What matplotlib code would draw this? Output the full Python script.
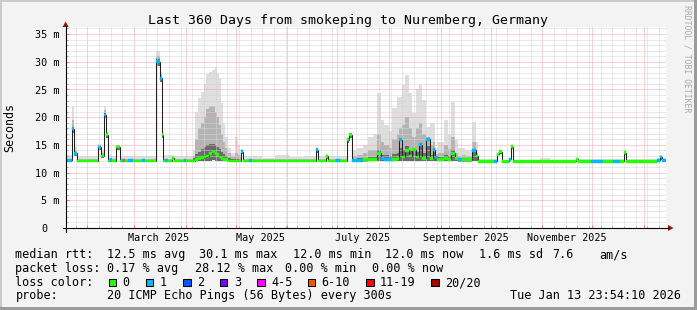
import numpy as np
import matplotlib
matplotlib.use("Agg")
import matplotlib.pyplot as plt
import matplotlib.dates as mdates
import matplotlib.transforms as mtransforms
from matplotlib.patches import Rectangle, Polygon
from datetime import datetime, timedelta

plt.rcParams['font.family'] = ['DejaVu Sans Mono', 'DejaVu Sans']

# ---------------- data ----------------
title = "Last 360 Days from smokeping to Nuremberg, Germany"
end_time = datetime(2026, 1, 13, 23, 54, 10)
span_days = 360

# segment start (days since start of window)
seg_day = [0.0, 3.8, 5.3, 6.8, 19.7, 21.2, 23.0, 24.5, 25.7, 26.6,
           27.8, 30.5, 32.6, 33.8, 35.0, 35.9, 37.4, 40.4, 45.8, 47.6,
           54.5, 56.6, 58.0, 58.7, 59.6, 61.7, 64.1, 65.0, 71.0, 72.2,
           76.7, 77.6, 79.4, 81.2, 83.0, 84.2, 86.0, 87.8, 89.6, 90.8,
           92.0, 93.2, 94.4, 95.6, 97.4, 99.2, 101.6, 103.4, 104.6, 105.5,
           106.7, 110.0, 111.8, 117.8, 125.6, 134.6, 143.6, 150.5, 151.7, 156.2,
           157.4, 162.2, 164.6, 168.8, 170.3, 171.8, 174.8, 178.4, 181.4, 184.4,
           186.8, 189.2, 191.0, 194.0, 195.8, 198.8, 200.0, 201.8, 203.6, 206.0,
           207.8, 210.2, 212.0, 213.8, 216.2, 218.6, 220.4, 221.6, 223.4, 227.0,
           229.4, 231.2, 233.6, 235.4, 237.8, 239.6, 243.8, 246.2, 247.7, 257.0,
           258.8, 260.0, 261.8, 266.0, 267.2, 268.4, 284.6, 290.6, 306.2, 307.4,
           315.2, 322.4, 328.4, 332.6, 335.0, 336.5, 354.8, 356.6, 358.1]
# median rtt (ms)
median_ms = [12.2, 17.9, 13.5, 12.1, 14.6, 13.0, 20.4, 16.8, 12.1, 12.3,
             12.1, 14.6, 12.1, 12.2, 12.2, 12.1, 12.2, 12.1, 12.2, 12.1,
             30.0, 27.0, 16.8, 12.1, 12.2, 12.1, 12.6, 12.1, 12.2, 12.1,
             12.1, 12.3, 12.5, 12.7, 12.8, 13.0, 13.5, 13.7, 13.5, 13.2,
             12.8, 12.5, 12.4, 12.3, 12.1, 12.1, 12.1, 12.1, 12.1, 13.8,
             12.1, 12.2, 12.1, 12.1, 12.1, 12.1, 12.1, 14.1, 12.1, 12.9,
             12.1, 12.2, 12.1, 15.9, 16.8, 12.2, 12.2, 12.3, 12.3, 12.4,
             13.5, 12.5, 12.4, 12.4, 12.4, 12.5, 15.9, 12.8, 14.0, 13.0,
             14.1, 12.8, 15.0, 12.6, 16.0, 12.6, 14.1, 12.8, 12.4, 12.6,
             12.4, 13.5, 12.5, 12.3, 12.3, 12.3, 14.0, 13.0, 12.0, 12.0,
             13.3, 13.8, 12.0, 12.4, 14.7, 12.0, 12.0, 12.0, 12.4, 12.0,
             12.0, 12.0, 12.0, 12.0, 13.6, 12.0, 12.2, 12.8, 12.2]
# loss colour category (index into loss_labels)
loss_cat = [1, 1, 1, 0, 1, 0, 1, 0, 0, 1,
            0, 0, 0, 1, 5, 0, 1, 0, 1, 0,
            1, 1, 0, 0, 1, 0, 0, 0, 1, 0,
            0, 0, 0, 0, 0, 0, 0, 0, 0, 0,
            0, 0, 0, 0, 0, 0, 0, 0, 0, 1,
            0, 1, 0, 0, 0, 0, 0, 1, 0, 0,
            0, 1, 0, 0, 0, 1, 1, 0, 0, 0,
            0, 1, 1, 1, 0, 0, 1, 0, 0, 0,
            0, 0, 1, 0, 1, 0, 1, 1, 0, 0,
            0, 0, 0, 1, 0, 0, 1, 0, 0, 1,
            0, 0, 0, 1, 0, 0, 0, 0, 0, 0,
            1, 0, 1, 0, 0, 0, 1, 1, 1]
# smoke: fastest ping, inner (dark) band top, middle band top, slowest ping
ping_lo = [11.9, 17.2, 13.0, 11.9, 14.0, 12.6, 19.8, 16.2, 11.9, 11.9,
           11.9, 14.0, 11.9, 11.9, 11.9, 11.9, 11.9, 11.9, 11.9, 11.9,
           29.3, 26.4, 16.2, 11.9, 11.9, 11.9, 12.2, 11.9, 11.9, 11.9,
           11.9, 12.0, 12.0, 12.0, 12.0, 12.1, 12.1, 12.2, 12.1, 12.1,
           12.0, 12.0, 12.0, 12.0, 11.9, 11.9, 11.9, 11.9, 11.9, 13.3,
           11.9, 11.9, 11.9, 11.9, 11.9, 11.9, 11.9, 13.6, 11.9, 12.4,
           11.9, 11.9, 11.9, 15.3, 16.2, 11.9, 11.9, 11.9, 12.0, 12.0,
           12.0, 12.0, 12.0, 12.0, 12.0, 12.0, 12.1, 12.0, 12.1, 12.0,
           12.1, 12.0, 12.1, 12.0, 12.1, 12.0, 12.0, 12.0, 12.0, 12.0,
           12.0, 12.0, 12.0, 11.9, 11.9, 11.9, 12.0, 12.0, 11.9, 11.9,
           12.9, 13.3, 11.9, 12.0, 14.2, 11.9, 11.9, 11.9, 12.0, 11.9,
           11.9, 11.9, 11.9, 11.9, 13.1, 11.9, 11.9, 12.3, 11.9]
smoke_dark = [12.3, 18.2, 13.7, 12.3, 14.8, 13.2, 20.8, 17.0, 12.3, 12.4,
              12.3, 14.8, 12.3, 12.3, 12.3, 12.3, 12.3, 12.3, 12.3, 12.3,
              30.4, 27.3, 17.0, 12.3, 12.3, 12.3, 12.8, 12.3, 12.3, 12.3,
              12.6, 13.3, 13.8, 14.2, 14.6, 15.0, 15.2, 15.2, 15.0, 14.6,
              14.2, 13.8, 13.3, 12.9, 12.6, 12.4, 12.5, 12.4, 12.3, 13.9,
              12.3, 12.3, 12.3, 12.3, 12.3, 12.3, 12.3, 14.2, 12.3, 13.0,
              12.3, 12.3, 12.3, 16.0, 16.9, 12.5, 12.6, 12.7, 12.8, 12.8,
              14.0, 13.2, 13.2, 13.0, 13.4, 13.5, 14.5, 14.0, 14.8, 14.0,
              14.2, 13.8, 14.8, 13.5, 14.8, 13.2, 13.8, 12.8, 12.8, 13.2,
              12.9, 14.0, 12.8, 12.6, 12.6, 12.5, 13.8, 12.8, 12.1, 12.1,
              13.4, 13.9, 12.1, 12.4, 14.8, 12.1, 12.1, 12.1, 12.4, 12.1,
              12.1, 12.1, 12.1, 12.1, 13.7, 12.1, 12.2, 12.9, 12.2]
smoke_mid = [12.5, 19.5, 14.0, 12.4, 15.0, 13.5, 21.3, 17.2, 12.5, 12.6,
             12.4, 14.9, 12.4, 12.4, 12.4, 12.4, 12.4, 12.4, 12.4, 12.4,
             31.0, 27.7, 17.1, 12.5, 12.5, 12.5, 13.0, 12.4, 12.4, 12.4,
             13.0, 16.0, 18.0, 19.0, 20.0, 21.5, 22.0, 22.0, 21.0, 20.0,
             18.5, 17.0, 15.5, 14.5, 13.5, 13.0, 13.5, 13.2, 12.8, 14.1,
             12.4, 12.4, 12.4, 12.4, 12.5, 12.4, 12.4, 14.3, 12.4, 13.1,
             12.4, 12.4, 12.4, 16.2, 17.0, 13.0, 13.2, 13.5, 14.0, 14.0,
             17.0, 15.5, 15.0, 14.5, 16.0, 17.0, 18.0, 18.5, 20.0, 18.0,
             16.5, 18.0, 19.0, 17.0, 16.5, 15.0, 15.5, 13.3, 13.6, 15.0,
             14.2, 16.5, 13.6, 13.0, 13.2, 13.0, 15.5, 13.6, 12.2, 12.2,
             13.5, 14.0, 12.2, 12.45, 14.9, 12.2, 12.3, 12.2, 12.5, 12.2,
             12.2, 12.2, 12.2, 12.2, 13.9, 12.2, 12.3, 13.0, 12.3]
smoke_hi = [13.2, 22.0, 14.6, 13.0, 15.2, 14.0, 22.0, 17.4, 13.2, 13.3,
            13.0, 15.0, 13.0, 13.0, 13.0, 13.0, 13.0, 13.0, 13.0, 13.0,
            32.0, 28.2, 17.2, 13.2, 13.2, 13.2, 13.2, 13.0, 13.0, 13.0,
            14.0, 21.0, 23.5, 24.5, 26.0, 27.8, 28.2, 28.5, 29.0, 28.0,
            27.0, 22.5, 19.0, 16.5, 14.5, 13.5, 16.5, 15.0, 13.5, 14.3,
            13.0, 13.0, 13.0, 12.7, 13.2, 12.8, 13.0, 14.5, 13.0, 13.3,
            13.0, 13.0, 13.0, 16.5, 17.2, 14.1, 14.4, 15.0, 16.4, 17.0,
            24.3, 19.5, 18.6, 17.5, 21.7, 23.7, 23.7, 25.8, 27.6, 24.3,
            20.7, 25.0, 25.8, 23.1, 18.3, 19.0, 19.0, 14.4, 15.5, 19.5,
            17.0, 22.8, 15.9, 14.4, 14.4, 14.0, 19.2, 15.5, 12.4, 12.4,
            13.6, 14.1, 12.3, 12.5, 15.0, 12.3, 12.6, 12.3, 12.6, 12.4,
            12.5, 12.4, 12.5, 12.4, 14.1, 12.4, 12.6, 13.1, 12.6]

y_ticks = [0, 5, 10, 15, 20, 25, 30, 35]
y_tick_labels = ["0", "5 m", "10 m", "15 m", "20 m", "25 m", "30 m", "35 m"]
x_label_text = ["March 2025", "May 2025", "July 2025", "September 2025", "November 2025"]
x_label_date = ["2025-03-16", "2025-05-16", "2025-07-16", "2025-09-16", "2025-11-16"]

loss_labels = ["0", "1", "2", "3", "4-5", "6-10", "11-19", "20/20"]
loss_colors = ["#26ff00", "#00b8ff", "#0059ff", "#7e00ff", "#ff00ff",
               "#ff5500", "#ff0000", "#a10000"]

rtt_line = [("median rtt:", 16), ("12.5 ms avg", 107.3), ("30.1 ms max", 200),
            ("12.0 ms min", 293.3), ("12.0 ms now", 386), ("1.6 ms sd", 479.3),
            ("7.6", 553.3), ("am/s", 600)]
loss_line = [("packet loss:", 16), ("0.17 % avg", 107.3), ("28.12 % max", 196),
             ("0.00 % min", 286), ("0.00 % now", 372.7)]
probe_text = "20 ICMP Echo Pings (56 Bytes) every 300s"
stamp_text = "Tue Jan 13 23:54:10 2026"

# ---------------- figure ----------------
W, H = 697, 310
fig = plt.figure(figsize=(W / 100, H / 100), dpi=100)
fig.patch.set_facecolor("#F3F3F3")

def fx(px):
    return px / W

def fy(py):
    return 1 - py / H

AX_L, AX_R, AX_T, AX_B = 65.6, 665.6, 27.0, 228.0
ax = fig.add_axes([fx(AX_L), fy(AX_B), (AX_R - AX_L) / W, (AX_B - AX_T) / H])
ax.set_facecolor("white")
for s in ax.spines.values():
    s.set_visible(False)

start_time = end_time - timedelta(days=span_days)
t0 = mdates.date2num(start_time)
x_edges = t0 + np.array(seg_day + [float(span_days)])

ax.set_xlim(t0, mdates.date2num(end_time))
ax.set_ylim(0, 36.26)

def ext(a):
    a = np.asarray(a, dtype=float)
    return np.append(a, a[-1])

ax.fill_between(x_edges, ext(ping_lo), ext(smoke_hi), step="post",
                color="#DEDEDE", lw=0, zorder=1.0)
ax.fill_between(x_edges, ext(ping_lo), ext(smoke_mid), step="post",
                color="#B4B4B4", lw=0, zorder=1.1)
ax.fill_between(x_edges, ext(ping_lo), ext(smoke_dark), step="post",
                color="#6A6A6A", lw=0, zorder=1.2)

ax.stairs(median_ms, x_edges, baseline=None, color="#202020", lw=0.75, zorder=2.5)

sw = 0.25
med = np.array(median_ms)
cols = [loss_colors[c] for c in loss_cat]
ax.bar(x_edges[:-1], 2 * sw, bottom=med - sw, width=np.diff(x_edges), align="edge",
       color=cols, edgecolor=cols, linewidth=0.3, zorder=3)

# grid
month_starts = [datetime(2025, m, 1) for m in range(2, 13)] + [datetime(2026, 1, 1)]
ax.set_xticks(mdates.date2num(month_starts))
ax.xaxis.set_minor_locator(mdates.WeekdayLocator(byweekday=mdates.SA))
ax.xaxis.set_major_formatter(plt.NullFormatter())
ax.set_yticks(y_ticks)
ax.set_yticks(np.arange(0, 37, 1), minor=True)
ax.yaxis.set_major_formatter(plt.NullFormatter())
ax.set_axisbelow("line")
ax.grid(True, which="minor", color="#D4D4D4", linestyle=(0, (1, 1)), lw=0.72)
ax.grid(True, which="major", color="#F6A4A4", linestyle=(0, (1, 1)), lw=0.72)
ax.tick_params(which="major", direction="in", length=2.5, width=0.72, color="#FF7070")
ax.tick_params(which="minor", direction="in", length=1.5, width=0.72, color="#A8A8A8")

# axes lines and arrows (pixel coords)
fig.add_artist(plt.Line2D([fx(62.5), fx(668)], [fy(AX_B), fy(AX_B)], color="black", lw=0.8))
fig.add_artist(plt.Line2D([fx(AX_L), fx(AX_L)], [fy(232), fy(26)], color="black", lw=0.8))
fig.add_artist(Polygon([[fx(AX_L - 3), fy(27)], [fx(AX_L + 3), fy(27)], [fx(AX_L), fy(21.5)]],
                       closed=True, transform=fig.transFigure, color="#9A1010", lw=0))
fig.add_artist(Polygon([[fx(668), fy(AX_B - 3)], [fx(668), fy(AX_B + 3)], [fx(673.5), fy(AX_B)]],
                       closed=True, transform=fig.transFigure, color="#9A1010", lw=0))

# y tick labels
ytr = mtransforms.blended_transform_factory(fig.transFigure, ax.transData)
yoff = mtransforms.ScaledTranslation(0, -4.2 / 100, fig.dpi_scale_trans)
for v, lab in zip(y_ticks, y_tick_labels):
    xr = 59.3 if lab != "0" else 47.6
    ax.text(fx(xr), v, lab, transform=ytr + yoff, ha="right", va="baseline",
            fontsize=7.25, color="black", clip_on=False)

# x labels
xtr = mtransforms.blended_transform_factory(ax.transData, fig.transFigure)
for d, lab in zip(x_label_date, x_label_text):
    ax.text(mdates.datestr2num(d), fy(241.3), lab, transform=xtr, ha="center",
            va="baseline", fontsize=7.25, color="black", clip_on=False)

# title, y label, watermark
fig.text(fx(347.5), fy(24), title, ha="center", va="baseline", fontsize=9.55, color="black")
fig.text(fx(10), fy(127.5), "Seconds", rotation=90, ha="center", va="center",
         fontsize=8.4, color="black")
fig.text(fx(687.5), fy(59), "RRDTOOL / TOBI OETIKER", rotation=270, ha="center",
         va="center", fontsize=5.9, color="#AAAAAA")

# legend
LFS = 8.45
for s, x in rtt_line:
    fig.text(fx(x - 0.6), fy(258.3), s, ha="left", va="baseline", fontsize=LFS)
for s, x in loss_line:
    fig.text(fx(x - 0.6), fy(272.3), s, ha="left", va="baseline", fontsize=LFS)
fig.text(fx(15.4), fy(286.4), "loss color:", ha="left", va="baseline", fontsize=LFS)
box_x = [108.3, 145.7, 182.7, 219.3, 256.7, 307.3, 365.7, 430.7]
for bx, lab, c in zip(box_x, loss_labels, loss_colors):
    fig.add_artist(Rectangle((fx(bx + 0.5), fy(286.2)), 7.3 / W, 7.6 / H,
                             transform=fig.transFigure, facecolor=c,
                             edgecolor="black", lw=0.75))
    fig.text(fx(bx + 14.4), fy(286.4), lab, ha="left", va="baseline", fontsize=LFS)
fig.text(fx(15.4), fy(299.3), "probe:", ha="left", va="baseline", fontsize=LFS)
fig.text(fx(106.7), fy(299.3), probe_text, ha="left", va="baseline", fontsize=LFS)
fig.text(fx(680.5), fy(299.3), stamp_text, ha="right", va="baseline", fontsize=LFS)

# frame shading
fig.add_artist(Rectangle((0, 1 - 2 / H), 1, 2 / H, transform=fig.transFigure, color="#CBCBCB", lw=0))
fig.add_artist(Rectangle((0, 0), 2 / W, 1, transform=fig.transFigure, color="#CBCBCB", lw=0))
fig.add_artist(Rectangle((0, 0), 1, 3 / H, transform=fig.transFigure, color="#9B9B9B", lw=0))
fig.add_artist(Rectangle((1 - 3 / W, 0), 3 / W, 1, transform=fig.transFigure, color="#9B9B9B", lw=0))

fig.savefig("out.png", dpi=100, facecolor=fig.get_facecolor())
